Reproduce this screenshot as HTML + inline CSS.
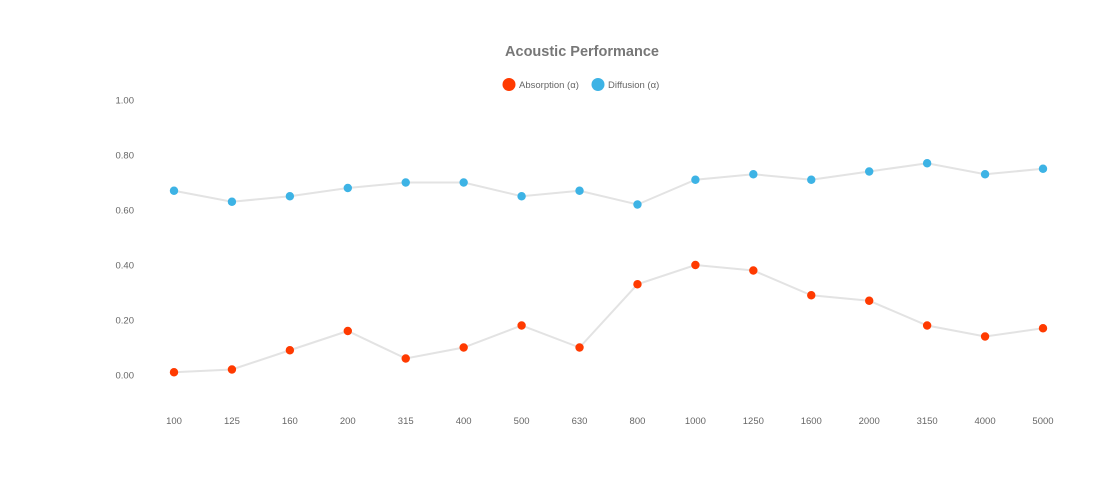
<!DOCTYPE html>
<html><head><meta charset="utf-8"><style>
body{margin:0;background:#fff;}
svg{display:block;font-family:"Liberation Sans",Arial,sans-serif;}
</style></head><body>
<svg id="chart" width="1096" height="496">
<text x="582" y="56" text-anchor="middle" font-size="14.5" font-weight="bold" fill="#777">Acoustic Performance</text>
<g>
<g><circle cx="509" cy="84.5" r="6.5" fill="#ff3a00"/><text x="519" y="88" font-size="9.5" fill="#666">Absorption (α)</text></g>
<g><circle cx="598" cy="84.5" r="6.5" fill="#3db3e5"/><text x="608" y="88" font-size="9.5" fill="#666">Diffusion (α)</text></g>
</g>
<g id="yaxis"></g>
<g id="xaxis"></g>
<g id="series"></g>
</svg>
<script>
const categories=["100","125","160","200","315","400","500","630","800","1000","1250","1600","2000","3150","4000","5000"];
const absorption=[0.01,0.02,0.09,0.16,0.06,0.10,0.18,0.10,0.33,0.40,0.38,0.29,0.27,0.18,0.14,0.17];
const diffusion=[0.67,0.63,0.65,0.68,0.70,0.70,0.65,0.67,0.62,0.71,0.73,0.71,0.74,0.77,0.73,0.75];
const yTicks=[0,0.2,0.4,0.6,0.8,1.0];
const NS="http://www.w3.org/2000/svg";
const x0=174,x1=1043;
function xs(i){return x0+(x1-x0)*i/(categories.length-1);}
function ys(v){return 375-v*275;}
const ya=document.getElementById('yaxis'),xa=document.getElementById('xaxis'),sg=document.getElementById('series');
yTicks.forEach(t=>{const el=document.createElementNS(NS,'text');


el.setAttribute('x',134);el.setAttribute('y',ys(t)+3.5);el.setAttribute('text-anchor','end');el.setAttribute('font-size','9.5');el.setAttribute('fill','#666');el.textContent=t.toFixed(2);ya.appendChild(el);});
categories.forEach((c,i)=>{const el=document.createElementNS(NS,'text');


el.setAttribute('x',xs(i));el.setAttribute('y',424);el.setAttribute('text-anchor','middle');el.setAttribute('font-size','9.5');el.setAttribute('fill','#666');el.textContent=c;xa.appendChild(el);});
function draw(data,color,name){
const p=document.createElementNS(NS,'polyline');


p.setAttribute('points',data.map((v,i)=>xs(i)+','+ys(v)).join(' '));
p.setAttribute('fill','none');p.setAttribute('stroke','#e3e3e3');p.setAttribute('stroke-width','2');sg.appendChild(p);
data.forEach((v,i)=>{const c=document.createElementNS(NS,'circle');


c.setAttribute('cx',xs(i));c.setAttribute('cy',ys(v));c.setAttribute('r',4.2);c.setAttribute('fill',color);sg.appendChild(c);});
}
draw(diffusion,'#3db3e5','diffusion');
draw(absorption,'#ff3a00','absorption');
</script>
</body></html>
